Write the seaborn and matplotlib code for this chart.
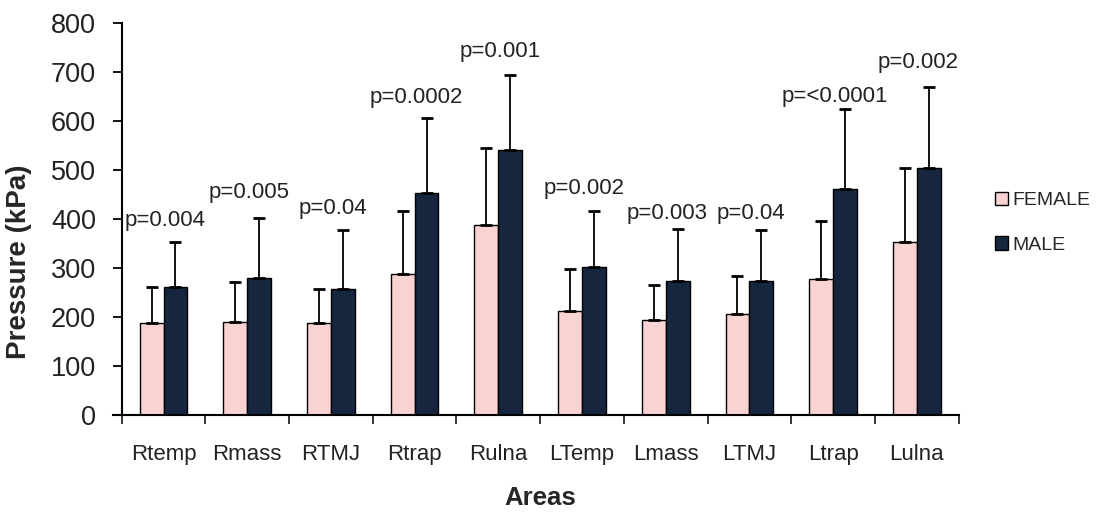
import pandas as pd
import matplotlib
matplotlib.use("Agg")
import matplotlib.pyplot as plt
import seaborn as sns

# values
areas = ['Rtemp', 'Rmass', 'RTMJ', 'Rtrap', 'Rulna',
         'LTemp', 'Lmass', 'LTMJ', 'Ltrap', 'Lulna']
female_mean = [187, 190, 187, 288, 388, 212, 194, 207, 278, 353]
female_sd = [75, 81, 69, 128, 156, 85, 72, 77, 117, 151]
male_mean = [262, 279, 257, 452, 540, 302, 274, 274, 460, 504]
male_sd = [91, 123, 120, 153, 154, 114, 106, 103, 164, 164]
p_labels = ['p=0.004', 'p=0.005', 'p=0.04', 'p=0.0002', 'p=0.001',
            'p=0.002', 'p=0.003', 'p=0.04', 'p=<0.0001', 'p=0.002']

sns.set_style('white')
plt.rcParams['font.family'] = ['Liberation Sans', 'DejaVu Sans']

df = pd.DataFrame({
    'Area': areas * 2,
    'Sex': ['FEMALE'] * len(areas) + ['MALE'] * len(areas),
    'Pressure': female_mean + male_mean,
})

fig = plt.figure(figsize=(11.02, 5.18), dpi=100)
ax = fig.add_axes([0.1104, 0.1988, 0.7595, 0.7574])

sns.barplot(data=df, x='Area', y='Pressure', hue='Sex', order=areas,
            palette={'FEMALE': '#FFCCCC', 'MALE': '#0F2545'},
            errorbar=None, width=0.57, gap=0, edgecolor='black',
            linewidth=1.0, ax=ax)

# upward-only error bars with caps
for cont, sds in zip(ax.containers, [female_sd, male_sd]):
    for bar, sd in zip(cont, sds):
        x = bar.get_x() + bar.get_width() / 2
        h = bar.get_height()
        ax.errorbar(x, h, yerr=[[0], [sd]], fmt='none', ecolor='black',
                    elinewidth=1.3, capsize=4.5, capthick=2.0)

# p-value labels (baseline heights as placed in the original figure)
p_label_y = [385, 443, 409, 636, 731, 450, 399, 399, 639, 707]
for i, (lab, y) in enumerate(zip(p_labels, p_label_y)):
    ax.text(i + 0.02, y, lab, ha='center', va='baseline',
            fontsize=16, color='#222222')

ax.set_ylim(0, 800)
ax.set_xlim(-0.5, len(areas) - 0.5)
ax.set_yticks(range(0, 801, 100))
ax.tick_params(axis='y', labelsize=19.5, length=6.5, width=1.3,
               direction='out', left=True, pad=12, colors='black',
               labelcolor='#222222')
ax.tick_params(axis='x', which='major', length=0, labelsize=16, pad=21,
               labelcolor='#222222')
ax.set_xticks([i + 0.5 for i in range(-1, len(areas))], minor=True)
ax.tick_params(axis='x', which='minor', length=6.5, width=1.3,
               direction='out', bottom=True)

sns.despine(ax=ax)
for sp in ['left', 'bottom']:
    ax.spines[sp].set_color('black')
    ax.spines[sp].set_linewidth(1.5)
# the category axis runs a little past the value axis, as in the original
ax.spines['bottom'].set_bounds(-0.6, len(areas) - 0.5)

ax.set_xlabel('Areas', fontsize=18.5, fontweight='bold')
ax.set_ylabel('Pressure (kPa)', fontsize=20, fontweight='bold')
ax.xaxis.set_label_coords(0.5, -0.18)
ax.yaxis.set_label_coords(-0.107, 0.39)

ax.legend(loc='center left', bbox_to_anchor=(1.022, 0.49), frameon=False,
          fontsize=14, handlelength=0.67, handleheight=0.67,
          handletextpad=0.25, labelspacing=1.4)

fig.savefig('out.png', dpi=100)
